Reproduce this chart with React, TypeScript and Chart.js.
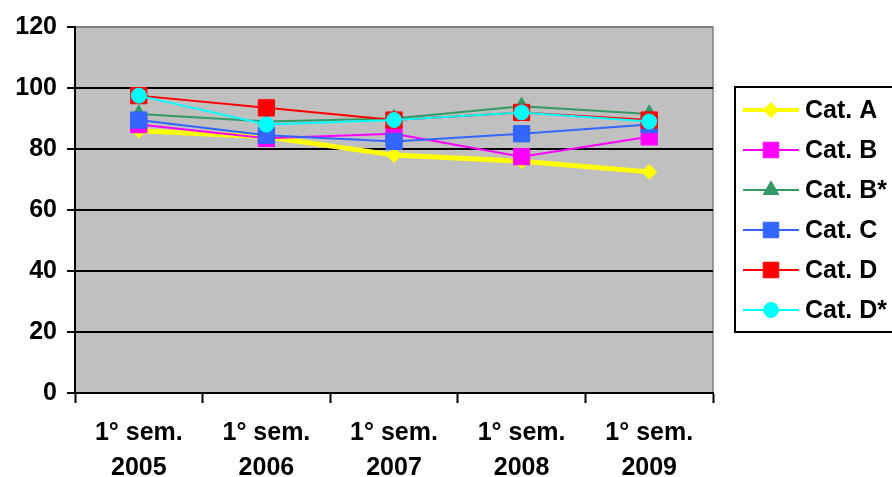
import { useEffect, useRef } from 'react';
import { Chart, registerables } from 'chart.js';
import { drawPoint } from 'chart.js/helpers';

Chart.register(...registerables);

const categories = [
  ['1° sem.', '2005'],
  ['1° sem.', '2006'],
  ['1° sem.', '2007'],
  ['1° sem.', '2008'],
  ['1° sem.', '2009'],
];
const seriesNames = ['Cat. A', 'Cat. B', 'Cat. B*', 'Cat. C', 'Cat. D', 'Cat. D*'];
const catA = [86, 84, 78, 76, 72.5];
const catB = [88, 83.5, 85, 77.5, 84];
const catBStar = [91.5, 89, 90, 94, 91.5];
const catC = [89.5, 84.5, 82.5, 85, 88];
const catD = [97.5, 93.5, 89.5, 92, 89.5];
const catDStar = [97.5, 88, 89.5, 92, 89];
const yTicks = [0, 20, 40, 60, 80, 100, 120];

const FONT = { family: "'Liberation Sans', Arial, sans-serif", size: 25, weight: 'bold' as const };

const styles = [
  { color: '#FFFF00', width: 5, point: 'rectRot', radius: 7.5 },
  { color: '#FF00FF', width: 2, point: 'rect', radius: 11.5 },
  { color: '#339966', width: 2, point: 'triangle', radius: 9 },
  { color: '#3366FF', width: 2, point: 'rect', radius: 11.5 },
  { color: '#FF0000', width: 2, point: 'rect', radius: 11.5 },
  { color: '#00FFFF', width: 2, point: 'circle', radius: 7.5 },
];

const bgPlugin = {
  id: 'plotBg',
  beforeDraw(chart: any) {
    const { ctx, chartArea: a } = chart;
    ctx.save();
    ctx.fillStyle = '#C0C0C0';
    ctx.fillRect(a.left, a.top, a.right - a.left, a.bottom - a.top);
    ctx.strokeStyle = '#808080';
    ctx.lineWidth = 1.5;
    ctx.strokeRect(a.left, a.top, a.right - a.left, a.bottom - a.top);
    ctx.restore();
  },
};

const legendPlugin = {
  id: 'customLegend',
  afterDraw(chart: any) {
    const { ctx } = chart;
    ctx.save();
    ctx.strokeStyle = '#000';
    ctx.lineWidth = 2;
    ctx.strokeRect(735, 87, 170, 245);
    chart.data.datasets.forEach((ds: any, i: number) => {
      const y = 110 + 40 * i;
      const st = styles[i];
      ctx.strokeStyle = st.color;
      ctx.lineWidth = st.width === 5 ? 4 : 2;
      ctx.beginPath();
      ctx.moveTo(743, y);
      ctx.lineTo(799, y);
      ctx.stroke();
      ctx.fillStyle = st.color;
      ctx.strokeStyle = st.color;
      ctx.lineWidth = 1;
      drawPoint(ctx, { pointStyle: st.point, radius: st.point === 'rect' ? 11 : st.radius, borderWidth: 1, rotation: 0 } as any, 771, y);
      ctx.fillStyle = '#000';
      ctx.font = `bold ${FONT.size}px ${FONT.family}`;
      ctx.textBaseline = 'middle';
      ctx.textAlign = 'left';
      ctx.fillText(ds.label, 805, y + 1);
    });
    ctx.restore();
  },
};

export default function App() {
  const ref = useRef<HTMLCanvasElement>(null);
  useEffect(() => {
    if (!ref.current) return;
    const values = [catA, catB, catBStar, catC, catD, catDStar];
    const chart = new Chart(ref.current, {
      type: 'line',
      data: {
        labels: categories as any,
        datasets: values.map((v, i) => ({
          label: seriesNames[i],
          data: v,
          borderColor: styles[i].color,
          backgroundColor: styles[i].color,
          borderWidth: styles[i].width,
          pointStyle: styles[i].point as any,
          pointRadius: styles[i].radius,
          pointBorderWidth: 1,
          pointBackgroundColor: styles[i].color,
          pointBorderColor: styles[i].color,
          tension: 0,
          order: 5 - i,
        })),
      },
      options: {
        responsive: false,
        animation: false,
        events: [],
        layout: { padding: { top: 27, right: 179, left: 0, bottom: 0 } },
        plugins: { legend: { display: false }, tooltip: { enabled: false } },
        scales: {
          x: {
            type: 'category',
            offset: true,
            grid: {
              display: true,
              drawOnChartArea: false,
              drawTicks: true,
              tickLength: 10,
              offset: true,
              color: '#000',
              tickColor: '#000',
              tickWidth: 2,
            },
            border: { display: true, color: '#000', width: 2 },
            ticks: { color: '#000', font: { ...FONT, lineHeight: 1.4 }, padding: 13, maxRotation: 0, autoSkip: false },
            afterFit(scale: any) {
              scale.height = 84;
            },
          },
          y: {
            min: 0,
            max: 120,
            afterBuildTicks(scale: any) {
              scale.ticks = yTicks.map((v) => ({ value: v }));
            },
            grid: {
              color: (c: any) => (c.tick && c.tick.value === 120 ? '#808080' : '#000'),
              lineWidth: 2,
              tickColor: '#000',
              tickLength: 8,
              tickWidth: 2,
            },
            border: { display: true, color: '#000', width: 2 },
            ticks: { color: '#000', font: FONT, padding: 10 },
            afterFit(scale: any) {
              scale.width = 75;
            },
          },
        },
      },
      plugins: [bgPlugin, legendPlugin],
    });
    return () => chart.destroy();
  }, []);
  return (
    <div style={{ position: 'absolute', left: 0, top: 0, width: 892, height: 477, background: '#fff' }}>
      <canvas ref={ref} width={892} height={477} />
    </div>
  );
}
